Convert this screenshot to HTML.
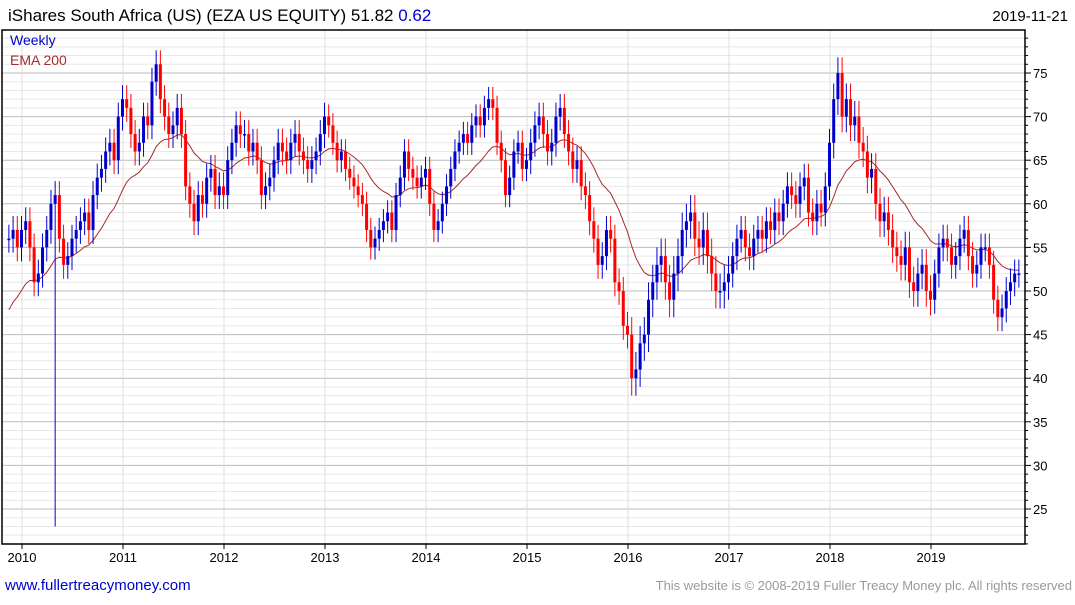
<!DOCTYPE html>
<html><head><meta charset="utf-8"><style>
body{margin:0;background:#fff;width:1075px;height:600px;overflow:hidden;font-family:"Liberation Sans",sans-serif}
svg text{font-family:"Liberation Sans",sans-serif}
</style></head><body>
<svg id="c" width="1075" height="600">
<text x="8" y="21" font-size="17" fill="#000">iShares South Africa (US) (EZA US EQUITY) 51.82 <tspan fill="#0000cc">0.62</tspan></text>
<text x="1068" y="21" font-size="15" fill="#000" text-anchor="end">2019-11-21</text>
<g id="grid"></g>
<g id="ema"></g>
<g id="bars"></g>
<rect x="2" y="30" width="1023" height="514" fill="none" stroke="#000" stroke-width="1.5"/>
<g id="axes"></g>
<text x="10" y="45" font-size="14" fill="#0000cc">Weekly</text>
<text x="10" y="65" font-size="14" fill="#a52a2a">EMA 200</text>
<text x="5" y="590" font-size="15" fill="#0000cc">www.fullertreacymoney.com</text>
<text x="1072" y="590" font-size="13" fill="#999" text-anchor="end">This website is © 2008-2019 Fuller Treacy Money plc. All rights reserved</text>
</svg>
<script>
const closes=[56,57,55,57,
58,55,51,52,55,57,60,61,56,53,54,56,57,58,59,57,61,63,64,66,67,65,70,72,
71,68,66,67,70,69,74,76,72,70,68,69,71,68,62,60,58,61,60,63,64,61,62,61,
65,67,69,68,68,66,67,65,61,62,63,65,67,66,65,67,68,66,65,64,65,66,68,70,
69,67,65,66,64,63,62,61,60,57,55,56,57,58,59,57,61,63,66,64,63,62,63,64,
60,57,58,60,62,64,66,67,68,67,69,70,69,71,72,71,67,65,61,63,66,67,64,65,
67,69,70,68,66,67,70,71,68,66,64,65,62,61,58,56,53,54,57,56,51,50,46,45,
40,41,44,45,49,51,53,54,51,49,52,54,57,58,59,56,55,57,54,52,50,50,51,52,
54,56,57,55,54,56,57,56,58,57,59,58,60,62,61,60,62,63,59,58,60,59,62,67,
72,75,70,72,69,70,67,66,63,64,60,58,59,57,55,54,53,55,51,50,52,53,50,49,
52,55,56,55,53,54,56,57,54,52,53,55,55,53,49,47,48,50,51,52,52];
const yearRange=[4,4,4,3.5,3.5,4,5,4,4.5,4];
const spikeIdx=[11];
const spikeLow=[23];
const emaSeed=[47];
const yTicks=[25,30,35,40,45,50,55,60,65,70,75];
const xYears=[2010,2011,2012,2013,2014,2015,2016,2017,2018,2019];
const NS="http://www.w3.org/2000/svg";
const L=2,R=1025,T=30,B=544;
const yv=v=>291-(v-50)*8.72;
const xt=t=>22+(t-2010)*101;
const tOf=i=>2009.87+i/24;
function mk(tag,attrs,parent){const e=document.createElementNS(NS,tag);for(const k in attrs)e.setAttribute(k,attrs[k]);document.getElementById(parent).appendChild(e);return e;}
for(let v=21;v<=80;v++){const y=yv(v);if(y<T||y>B)continue;
 const major=v%5===0;
 const g=mk('line',{x1:L,x2:R,y1:y,y2:y,stroke:major?'#bbb':'#e8e8e8','stroke-width':1},'grid');
 
 
 const tk=mk('line',{x1:R,x2:R+(major?6:3),y1:y,y2:y,stroke:'#000'},'axes');
 
 
}
yTicks.forEach(v=>{const t=mk('text',{x:1033,y:yv(v)+5,'font-size':13,fill:'#000'},'axes');t.textContent=v;
 
 });
xYears.forEach(yr=>{const x=xt(yr);
 const g=mk('line',{x1:x,x2:x,y1:T,y2:B,stroke:'#ddd'},'grid');
 
 
 const tk=mk('line',{x1:x,x2:x,y1:B,y2:B+5,stroke:'#000'},'axes');
 
 
 const t=mk('text',{x:x,y:B+18,'font-size':13,fill:'#000','text-anchor':'middle'},'axes');t.textContent=yr;
 
 });
let ema=emaSeed[0];const a=2/21;let pts=[];
closes.forEach((c,i)=>{
 const o=i>0?closes[i-1]:c;const x=xt(tOf(i));
 const yi=Math.min(9,Math.max(0,Math.floor(tOf(i)-2010)));
 const rg=yearRange[yi];
 let hi=Math.max(o,c)+rg*0.4,lo=Math.min(o,c)-rg*0.4;
 const si=spikeIdx.indexOf(i);if(si>=0)lo=spikeLow[si];
 const col=c>=o?'#0000cc':'#ff0000';
 const w=mk('line',{x1:x,x2:x,y1:yv(hi),y2:yv(lo),stroke:col,'stroke-width':1},'bars');
 
 
 const top=yv(Math.max(o,c)),bot=yv(Math.min(o,c));
 const b=mk('rect',{x:x-1.5,y:top,width:3,height:Math.max(1.5,bot-top),fill:col},'bars');
 
 
 ema=ema+a*(c-ema);pts.push(x.toFixed(1)+','+yv(ema).toFixed(1));
});
const pl=mk('polyline',{points:pts.join(' '),fill:'none',stroke:'#a52a2a','stroke-width':1},'ema');


</script>
</body></html>
